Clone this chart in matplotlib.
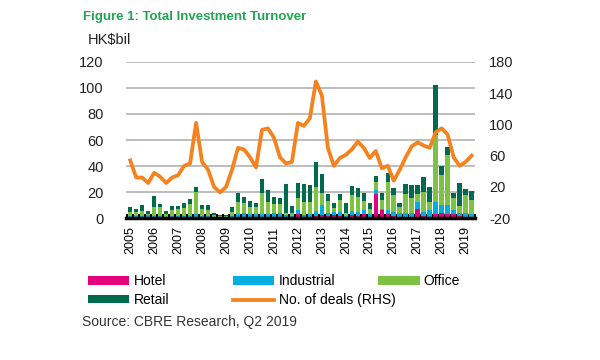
import matplotlib
matplotlib.use("Agg")
import matplotlib.pyplot as plt
import numpy as np

plt.rcParams['font.family'] = ['Liberation Sans', 'DejaVu Sans']
plt.rcParams['axes.unicode_minus'] = False

# quarterly data, 2005 Q1 - 2019 Q2 (HK$ bil)
years = [str(y) for y in range(2005, 2020)]
hotel = [0.3, 0.3, 0.3, 0.2, 0.3, 0.5, 0.2, 0.3, 0.5, 0.5, 0.5, 1.0, 0.3, 0.3, 0.2,
         0.2, 0.1, 0.4, 0.6, 1.0, 1.0, 1.0, 1.0, 1.0, 1.0, 1.0, 1.0, 0.5, 3.5, 0.8,
         1.0, 2.0, 2.6, 1.6, 2.5, 2.0, 1.0, 2.4, 1.9, 3.1, 1.0, 18.9, 6.0, 2.9, 1.7,
         1.2, 1.1, 1.1, 6.7, 1.9, 1.1, 3.5, 3.7, 3.1, 3.1, 1.7, 1.1, 1.0]
industrial = [1.0, 1.0, 1.2, 2.0, 1.2, 1.0, 0.5, 1.0, 1.5, 1.3, 1.5, 2.0, 1.0, 1.5, 0.5,
              0.3, 0.2, 1.5, 2.5, 2.6, 2.1, 2.0, 2.5, 2.5, 2.6, 3.0, 1.5, 1.3, 2.5, 1.8,
              2.0, 3.8, 7.7, 2.0, 2.0, 3.0, 1.0, 3.0, 3.0, 3.0, 2.0, 3.1, 1.0, 3.3, 3.0,
              3.0, 2.5, 3.0, 5.9, 3.0, 5.1, 9.0, 6.4, 6.9, 3.0, 2.5, 2.5, 2.5]
office = [3.5, 3.5, 4.1, 1.2, 7.3, 7.3, 2.7, 5.0, 4.7, 5.7, 9.0, 17.0, 5.7, 4.5, 1.5,
          1.0, 1.2, 3.0, 9.0, 8.0, 5.6, 5.8, 15.9, 9.0, 7.0, 6.7, 1.6, 2.0, 9.2, 9.5,
          9.5, 18.0, 9.0, 9.7, 3.0, 8.9, 1.6, 12.3, 11.5, 7.2, 4.4, 5.9, 7.3, 21.8, 13.0,
          4.0, 14.9, 11.0, 5.9, 15.4, 5.9, 51.3, 23.0, 38.5, 9.0, 5.1, 14.1, 10.3]
retail = [3.9, 2.6, 4.4, 2.0, 8.2, 2.0, 2.0, 2.9, 2.5, 3.8, 4.0, 4.0, 3.0, 3.7, 1.4,
          1.3, 1.3, 3.8, 7.4, 4.6, 4.6, 3.2, 10.3, 9.3, 5.5, 5.0, 21.8, 5.6, 11.8, 13.8,
          12.9, 19.0, 14.5, 4.9, 3.8, 4.6, 7.7, 6.9, 6.4, 6.2, 4.4, 4.4, 4.7, 6.4, 5.1,
          3.8, 7.4, 10.3, 6.9, 11.0, 11.5, 38.5, 7.2, 6.4, 4.6, 17.4, 4.6, 7.2]
deals = [54, 32, 32, 25, 38, 33, 25, 32, 35, 47, 50, 102, 52, 42, 20,
         13, 20, 42, 70, 68, 58, 45, 93, 95, 83, 58, 50, 52, 102, 98,
         108, 155, 137, 70, 47, 57, 61, 68, 78, 70, 57, 66, 44, 47, 28,
         42, 58, 72, 77, 73, 70, 90, 95, 87, 58, 47, 52, 60]

c_hotel = '#e5007e'
c_ind = '#00aee0'
c_office = '#7dc242'
c_retail = '#006a4e'
c_line = '#f5821f'

x = np.arange(len(hotel))
hotel = np.array(hotel)
industrial = np.array(industrial)
office = np.array(office)
retail = np.array(retail)

fig = plt.figure(figsize=(6, 3.6), dpi=100)
ax = fig.add_axes([0.21, 0.394, 0.582, 0.434])

w = 0.75
b1 = ax.bar(x, hotel, w, color=c_hotel)
b2 = ax.bar(x, industrial, w, bottom=hotel, color=c_ind)
b3 = ax.bar(x, office, w, bottom=hotel + industrial, color=c_office)
b4 = ax.bar(x, retail, w, bottom=hotel + industrial + office, color=c_retail)

ax.set_ylim(0, 120)
ax.set_yticks(range(0, 121, 20))
ax.set_xlim(-0.7, len(x) - 0.4)
ax.set_xticks(x[::4])
ax.set_xticklabels(years, rotation=90, fontsize=9)
ax.set_xticks(np.arange(-0.5, len(x), 1), minor=True)
ax.tick_params(axis='x', which='major', length=0, pad=6)
ax.tick_params(axis='x', which='minor', direction='in', length=3, width=1.5, color='black')
ax.tick_params(axis='y', length=0, pad=16, labelsize=10.5, labelcolor='#222222')
ax.grid(axis='y', color='#bdbdbd', linewidth=1.4)
ax.set_axisbelow(True)
for s in ['top', 'left', 'right']:
    ax.spines[s].set_visible(False)
ax.spines['bottom'].set_linewidth(2.5)

ax2 = ax.twinx()
ln, = ax2.plot(x, deals, color=c_line, linewidth=2.7)
ax2.set_ylim(-20, 180)
ax2.set_yticks(range(-20, 181, 40))
ax2.tick_params(axis='y', length=0, pad=10, labelsize=10.5, labelcolor='#222222')
for s in ax2.spines.values():
    s.set_visible(False)

fig.text(0.138, 0.952, 'Figure 1: Total Investment Turnover', color='#23a455',
         fontsize=9.5, fontweight='bold', va='center')
fig.text(0.147, 0.888, 'HK$bil', fontsize=10.5, va='center', color='#222222')
fig.text(0.137, 0.105, 'Source: CBRE Research, Q2 2019', fontsize=10, color='#333333', va='center')

# legend laid out as three columns like the original
cols = [([b1, b4], ['Hotel', 'Retail'], 0.146),
        ([b2, ln], ['Industrial', 'No. of deals (RHS)'], 0.388),
        ([b3], ['Office'], 0.630)]
for hs, ls, xpos in cols:
    fig.legend(hs, ls, loc='upper left', bbox_to_anchor=(xpos, 0.238),
               frameon=False, fontsize=10, handlelength=3.0, handleheight=0.55,
               labelspacing=0.35, handletextpad=0.3, borderaxespad=0, borderpad=0)

fig.savefig('out.png', dpi=100)
